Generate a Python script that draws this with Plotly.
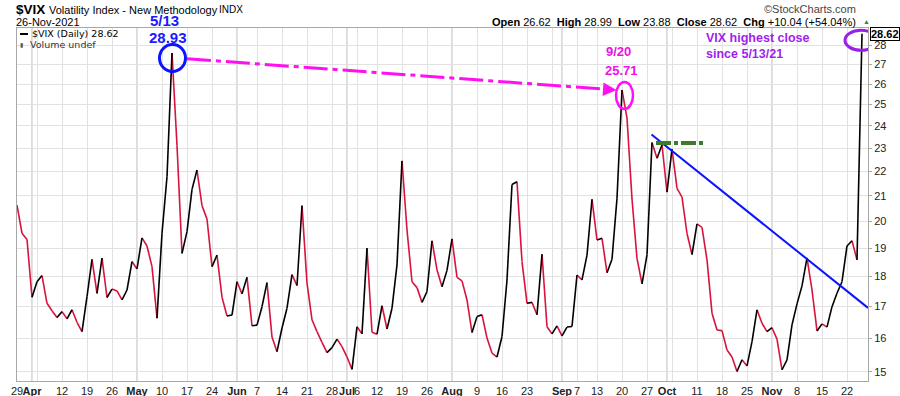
import math
import pandas as pd
import plotly.graph_objects as go

# ---------------- data ----------------
holidays = ["2021-04-02", "2021-05-31", "2021-07-05", "2021-09-06", "2021-11-25"]
dates = [d.strftime("%Y-%m-%d") for d in pd.bdate_range("2021-03-29", "2021-11-26")
         if d.strftime("%Y-%m-%d") not in holidays]

vix_close = [
    20.63, 19.55, 19.32, 17.30, 17.82, 18.03, 17.10, 16.86, 16.64, 16.83,
    16.60, 16.89, 16.49, 16.20, 17.32, 18.60, 17.43, 18.64, 17.29, 17.57,
    17.51, 17.21, 17.54, 18.52, 18.26, 19.38, 19.08, 18.34, 16.62, 19.55,
    21.78, 27.59, 23.13, 18.81, 19.61, 21.26, 22.06, 20.61, 20.09, 18.34,
    18.75, 17.30, 16.69, 16.72, 17.82, 17.41, 17.97, 16.38, 16.40, 16.99,
    17.79, 16.03, 15.59, 16.31, 16.94, 18.06, 17.69, 20.61, 17.77, 16.57,
    16.20, 15.87, 15.56, 15.71, 15.97, 15.74, 15.43, 15.07, 16.35, 16.13,
    19.00, 16.18, 16.12, 17.02, 16.28, 16.94, 18.40, 22.45, 19.67, 17.82,
    17.62, 17.13, 17.49, 19.27, 18.23, 17.65, 18.21, 19.34, 17.97, 17.85,
    17.21, 16.17, 16.67, 16.73, 16.00, 15.55, 15.43, 16.05, 17.88, 21.46,
    21.57, 18.52, 17.10, 17.13, 16.73, 18.78, 16.35, 16.13, 16.38, 16.07,
    16.34, 16.36, 18.05, 17.88, 18.75, 20.86, 19.30, 19.36, 18.13, 18.60,
    20.90, 25.71, 24.36, 20.87, 18.63, 17.75, 18.76, 23.25, 22.56, 23.14,
    21.15, 22.96, 21.30, 20.95, 19.54, 18.77, 19.90, 19.77, 18.58, 16.78,
    16.25, 16.23, 15.64, 15.43, 15.01, 15.35, 15.17, 15.89, 16.89, 16.46,
    16.20, 16.32, 15.97, 15.06, 15.35, 16.41, 17.08, 17.68, 18.65, 17.54,
    16.22, 16.44, 16.34, 16.99, 17.43, 17.82, 19.08, 19.27, 18.58, 28.62,
]
assert len(vix_close) == len(dates) == 170

y_tick_values = list(range(15, 29))
month_names = ["Jan", "Feb", "Mar", "Apr", "May", "Jun", "Jul", "Aug", "Sep", "Oct", "Nov", "Dec"]

peak_may_date, peak_may_label, peak_may_text = "2021-05-12", "5/13", "28.93"
peak_sep_date, peak_sep_label, peak_sep_text = "2021-09-20", "9/20", "25.71"

# ---------------- geometry helpers ----------------
W, H = 900, 396
ML, MR, MT, MB = 17, 32, 28, 15
PW, PH = W - ML - MR, H - MT - MB
X_RANGE = [0, 170.2]
Y_RANGE = [math.log10(14.74), math.log10(28.94)]
PX_PER_IDX = PW / (X_RANGE[1] - X_RANGE[0])
PX_PER_DEC = PH / (Y_RANGE[1] - Y_RANGE[0])


def px(x):
    return (x - ML) / PW


def py(y):
    return (H - MB - y) / PH


def yoff(v, dpx):
    """value that lies dpx pixels above value v on the log axis"""
    return v * 10 ** (dpx / PX_PER_DEC)


# ---------------- segments coloured by direction ----------------
up_x, up_y, dn_x, dn_y = [], [], [], []
for i in range(1, len(dates)):
    if vix_close[i] > vix_close[i - 1]:
        tx, ty = up_x, up_y
    else:
        tx, ty = dn_x, dn_y
    tx += [dates[i - 1], dates[i], dates[i]]
    ty += [vix_close[i - 1], vix_close[i], None]

RED = "#d8143c"
fig = go.Figure()
fig.add_trace(go.Scatter(x=dn_x, y=dn_y, mode="lines", line=dict(color=RED, width=1.6),
                         connectgaps=False, hoverinfo="skip", showlegend=False))
fig.add_trace(go.Scatter(x=up_x, y=up_y, mode="lines", line=dict(color="#000000", width=1.6),
                         connectgaps=False, hoverinfo="skip", showlegend=False))

# ---------------- x ticks ----------------
dts = pd.to_datetime(dates)
month_starts = [i for i in range(1, len(dts)) if dts[i].month != dts[i - 1].month]
week_starts = [i for i in range(len(dts)) if i == 0 or dts[i].weekday() <= dts[i - 1].weekday()]
tick_idx = sorted(set(month_starts) | set(week_starts))
tick_text = []
for i in tick_idx:
    if i in month_starts:
        tick_text.append("<b>%s</b>" % month_names[dts[i].month - 1])
    elif any(0 < i - m <= 1 for m in month_starts) or any(0 < m - i <= 2 for m in month_starts):
        tick_text.append("")
    else:
        tick_text.append(str(dts[i].day))

shapes = []
for m in month_starts:
    shapes.append(dict(type="line", xref="x", yref="paper", x0=m, x1=m, y0=0, y1=1,
                       line=dict(color="#b9b9b9", width=1), layer="below"))

# trend line (blue)
shapes.append(dict(type="line", xref="x", yref="y", x0=126.9, y0=23.61, x1=170.2, y1=16.95,
                   line=dict(color="#0a14ff", width=2)))
# magenta dash-dot arrow line
shapes.append(dict(type="line", xref="x", yref="y", x0=34.0, y0=27.29, x1=117.4, y1=25.75,
                   line=dict(color="#ff10f0", width=3, dash="24px,5px,5px,5px")))
# green dash-dot
shapes.append(dict(type="line", xref="x", yref="y", x0=127.8, y0=23.23, x1=137.8, y1=23.23,
                   line=dict(color="#3d7b2b", width=4, dash="15px,3px,4px,3px")))


def ellipse(idx, val, x0, x1, y0, y1, color, width):
    shapes.append(dict(type="circle", xref="x", yref="y",
                       x0=idx + x0 / PX_PER_IDX, x1=idx + x1 / PX_PER_IDX,
                       y0=yoff(val, y0), y1=yoff(val, y1),
                       line=dict(color=color, width=width)))


i_may = dates.index(peak_may_date)
i_sep = dates.index(peak_sep_date)
i_last = len(dates) - 1
ellipse(i_may, vix_close[i_may], -12.5, 13.5, -18.5, 8.5, "#0a14ff", 3)
ellipse(i_sep, vix_close[i_sep], -6, 11, -19, 8, "#ff10f0", 2.5)
ellipse(i_last, vix_close[i_last], -17, 15, -16.5, 3.5, "#9a1ee8", 3)

# legend line icon
shapes.append(dict(type="line", xref="paper", yref="paper", x0=px(20), x1=px(28), y0=py(34), y1=py(34),
                   line=dict(color="#000", width=2)))

FONT = "Liberation Sans, Arial, sans-serif"
ann = []


def text(x, y, s, size=11, color="#000", xanchor="left", bold=False, family=FONT):
    ann.append(dict(xref="paper", yref="paper", x=px(x), y=py(y), text=("<b>%s</b>" % s) if bold else s,
                    showarrow=False, xanchor=xanchor, yanchor="middle",
                    font=dict(size=size, color=color, family=family)))


text(14, 9, "$VIX", size=13.5, bold=True)
text(47, 10, "Volatility Index - New Methodology", size=11)
text(217, 10, "INDX", size=10)
text(14, 22, "26-Nov-2021", size=11)
text(858, 9, "©StockCharts.com", size=11, color="#444", xanchor="right")
text(858, 22, "<b>Open</b> 26.62  <b>High</b> 28.99  <b>Low</b> 23.88  <b>Close</b> 28.62  "
              "<b>Chg</b> +10.04 (+54.04%)", size=11, xanchor="right")
text(861, 22, "▲", size=7, color="#2e8b3a")
text(30, 34, "$VIX (Daily) 28.62", size=9.5, family="DejaVu Sans, Verdana, sans-serif")
text(18, 45, "▮", size=6, color="#555")
text(28, 45, "Volume undef", size=9.5, color="#333", family="DejaVu Sans, Verdana, sans-serif")

text(164, 21, peak_may_label, size=15, color="#1a1aff", xanchor="center", bold=True)
text(168, 37, peak_may_text, size=15, color="#1a1aff", xanchor="center", bold=True)
text(618, 51, peak_sep_label, size=13, color="#ee10e6", xanchor="center", bold=True)
text(621, 70, peak_sep_text, size=13, color="#ee10e6", xanchor="center", bold=True)
text(704, 38, "VIX highest close", size=12.5, color="#a01ef0", bold=True)
text(704, 54, "since 5/13/21", size=12.5, color="#a01ef0", bold=True)

# arrow head of magenta arrow
ann.append(dict(xref="x", yref="y", x=119.9, y=math.log10(25.70), ax=-14, ay=-1, text="",
                showarrow=True, arrowhead=2, arrowsize=0.9, arrowwidth=3, arrowcolor="#ff10f0"))
# last value box
ann.append(dict(xref="paper", yref="y", x=1, y=math.log10(vix_close[-1]), xanchor="left", yanchor="middle",
                xshift=2, text="<b>%.2f</b>" % vix_close[-1], showarrow=False,
                font=dict(size=11, color="#000", family=FONT), bgcolor="#fff",
                bordercolor="#000", borderwidth=1, borderpad=0))

fig.update_layout(
    width=W, height=H,
    margin=dict(l=ML, r=MR, t=MT, b=MB, autoexpand=False),
    paper_bgcolor="#fff", plot_bgcolor="#fff",
    font=dict(family=FONT, size=11, color="#222"),
    showlegend=False,
    shapes=shapes,
    annotations=ann,
    xaxis=dict(type="category", categoryorder="array", categoryarray=dates,
               range=X_RANGE, tickmode="array", tickangle=0, automargin=False,
               tickvals=[dates[i] for i in tick_idx], ticktext=tick_text,
               showgrid=True, gridcolor="#e2e2e2", gridwidth=1,
               showline=True, linecolor="#a8a8a8", mirror=True, ticks="",
               tickfont=dict(size=11, color="#222"), zeroline=False, fixedrange=True),
    yaxis=dict(type="log", side="right", range=Y_RANGE, automargin=False,
               tickmode="array", tickvals=y_tick_values, ticktext=[str(v) for v in y_tick_values],
               showgrid=True, gridcolor="#e2e2e2", gridwidth=1,
               showline=True, linecolor="#a8a8a8", mirror=True,
               ticks="outside", ticklen=3, tickcolor="#a8a8a8",
               tickfont=dict(size=11, color="#222"), zeroline=False, fixedrange=True),
)

fig.write_html("out.html", config={"displayModeBar": False},
               post_script="document.body.style.margin='0';document.body.style.padding='0';")
